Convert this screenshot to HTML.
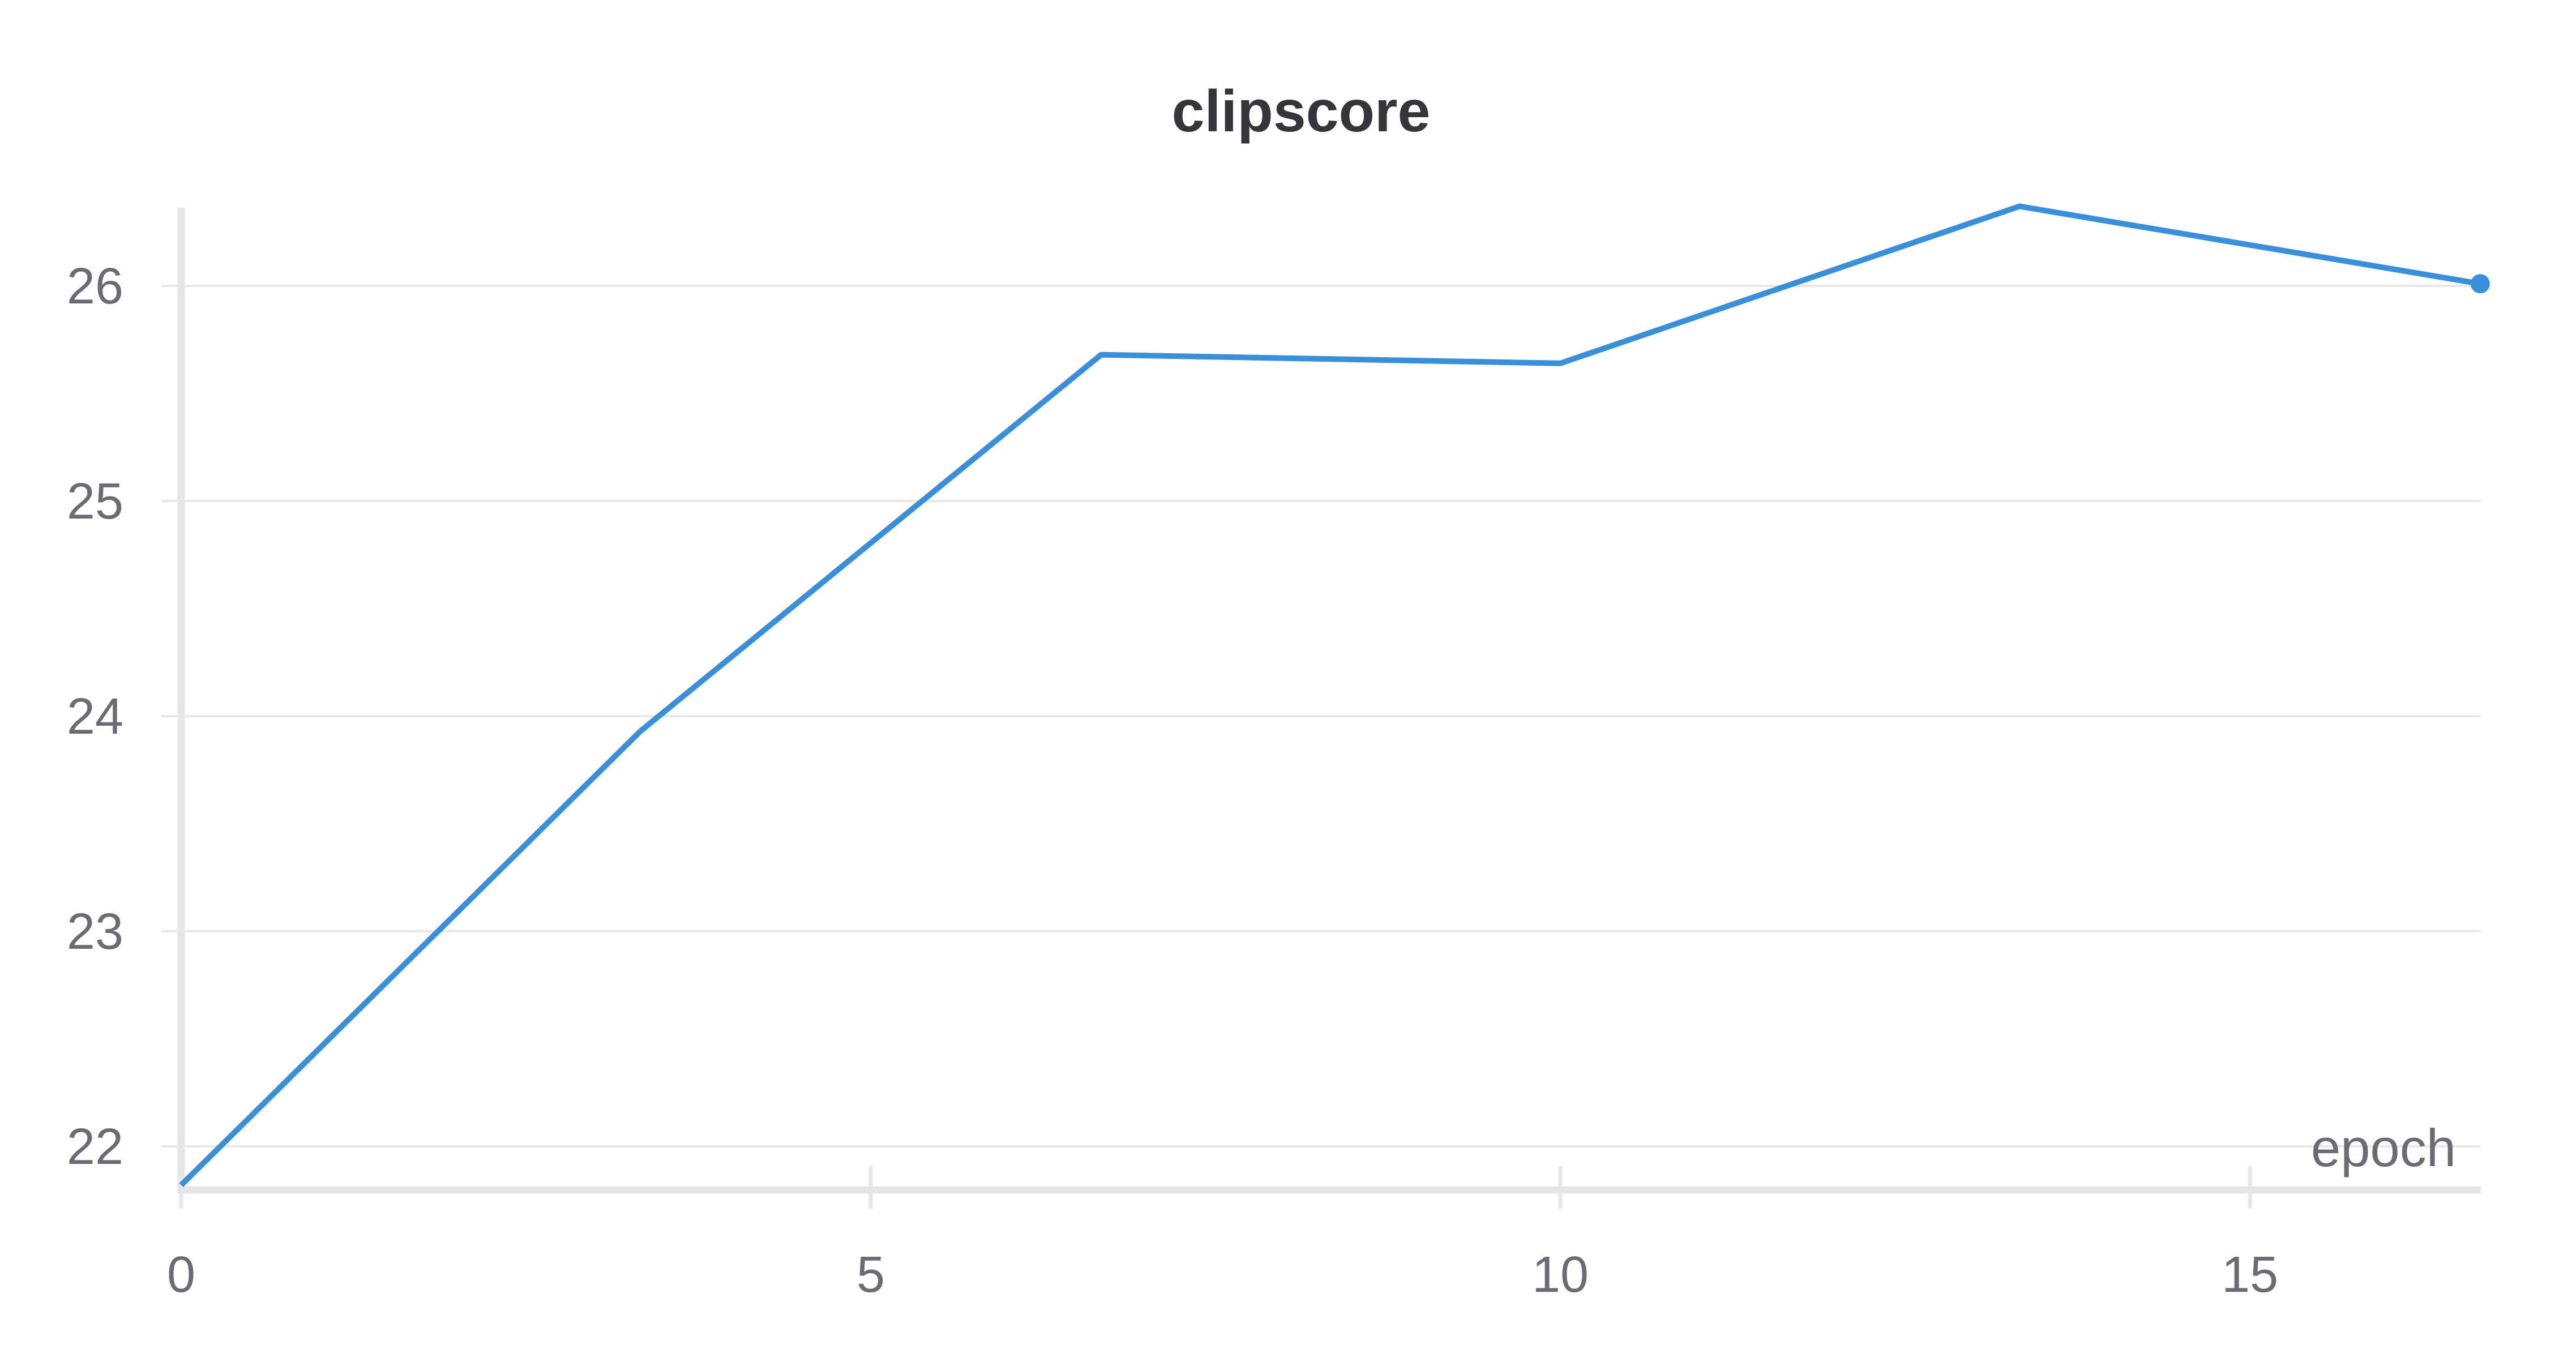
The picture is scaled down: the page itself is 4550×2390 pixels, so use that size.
<!DOCTYPE html>
<html><head><meta charset="utf-8"><style>
html,body{margin:0;padding:0;background:#fff;}
svg{display:block;}
text{font-family:"Liberation Sans",sans-serif;}
</style></head><body>
<svg id="chart" width="4550" height="2390" viewBox="0 0 4550 2390" xmlns="http://www.w3.org/2000/svg">
<text x="2298" y="232" text-anchor="middle" font-size="104" font-weight="bold" fill="#35353c">clipscore</text>
<g id="grid"></g>
<g id="axes"></g>
<g id="series"></g>
</svg>
<script>
const epochs = [0, 3.33, 6.67, 10, 13.33, 16.67];
const clipscores = [21.82, 23.93, 25.68, 25.64, 26.37, 26.01];
const yTicks = [22, 23, 24, 25, 26];
const xTicks = [0, 5, 10, 15];

const NS = "http://www.w3.org/2000/svg";
const X0 = 320, XU = 243.6, XEND = 4382;
const Y26 = 505, YU = 380;
function xs(v){ return X0 + v * XU; }
function ys(v){ return Y26 + (26 - v) * YU; }
function mk(tag, attrs, parent){
  const e = document.createElementNS(NS, tag);
  for (const k in attrs) e.setAttribute(k, attrs[k]);
  parent.appendChild(e);
  return e;
}
const grid = document.getElementById('grid');
const axes = document.getElementById('axes');
const series = document.getElementById('series');

yTicks.forEach(t => {
  const y = ys(t);
  const l = mk('line', {x1: X0 - 35, x2: XEND, y1: y, y2: y, stroke: '#e8e8ea', 'stroke-width': 4}, grid);
  
  
  const tx = mk('text', {x: 218, y: y + 31, 'text-anchor': 'end', 'font-size': 90, fill: '#6b6b76'}, axes);
  tx.textContent = t;
  
  
});

const ya = mk('line', {x1: X0, x2: X0, y1: 367, y2: 2108, stroke: '#e6e6e8', 'stroke-width': 13}, axes);


const xa = mk('line', {x1: X0 - 6, x2: XEND, y1: 2102, y2: 2102, stroke: '#e6e6e8', 'stroke-width': 13}, axes);



xTicks.forEach(t => {
  const x = xs(t);
  const tk = mk('line', {x1: x, x2: x, y1: 2060, y2: 2135, stroke: '#e6e6e8', 'stroke-width': 7}, axes);
  
  
  const tx = mk('text', {x: x, y: 2282, 'text-anchor': 'middle', 'font-size': 90, fill: '#6b6b76'}, axes);
  tx.textContent = t;
  
  
});

const xt = mk('text', {x: 4338, y: 2060, 'text-anchor': 'end', 'font-size': 94, fill: '#6b6b76'}, axes);
xt.textContent = 'epoch';



const pts = epochs.map((e, i) => xs(e) + ',' + ys(clipscores[i])).join(' ');
const pl = mk('polyline', {points: pts, fill: 'none', stroke: '#3a8fdd', 'stroke-width': 10, 'stroke-linejoin': 'round'}, series);


const li = epochs.length - 1;
const dot = mk('circle', {cx: xs(epochs[li]), cy: ys(clipscores[li]), r: 17, fill: '#3a8fdd'}, series);


</script>
</body></html>
